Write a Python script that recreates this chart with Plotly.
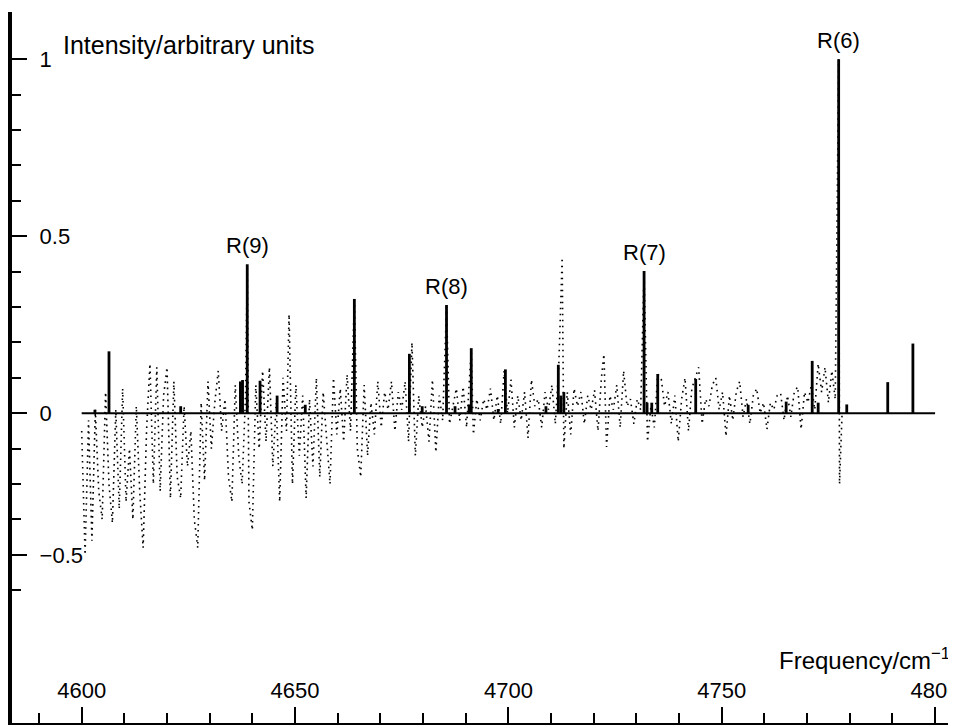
import plotly.graph_objects as go

# ---------------- data ----------------
freq_ticks = [4600, 4650, 4700, 4750, 4800]
freq_tick_text = ["4600", "4650", "4700", "4750", "4800"]
y_tick_vals = [1, 0.5, 0, -0.4]
y_tick_text = ["1", "0.5", "0", "\u22120.5"]
y_minor_vals = [0.9, 0.8, 0.7, 0.6, 0.4, 0.3, 0.2, 0.1, -0.1, -0.2, -0.3, -0.5]

# calculated stick spectrum
stick_freq = [4603.1, 4606.4, 4623.2, 4637.2, 4637.7, 4638.8, 4641.8, 4645.8,
              4652.4, 4663.9, 4676.8, 4679.8, 4685.5, 4687.5, 4690.8, 4691.3,
              4697.6, 4699.3, 4708.8, 4711.7, 4712.3, 4713.0, 4731.8, 4732.5,
              4733.6, 4735.0, 4743.9, 4756.2, 4765.1, 4771.2, 4772.6, 4777.4,
              4779.3, 4788.9, 4794.8]
stick_int = [0.01, 0.175, 0.02, 0.09, 0.094, 0.421, 0.092, 0.05,
             0.024, 0.323, 0.168, 0.02, 0.306, 0.02, 0.025, 0.184,
             0.012, 0.124, 0.02, 0.137, 0.05, 0.06, 0.402, 0.03,
             0.03, 0.111, 0.097, 0.024, 0.033, 0.148, 0.03, 1.0,
             0.025, 0.088, 0.197]

# labelled lines
r_labels = ["R(9)", "R(8)", "R(7)", "R(6)"]
r_freq = [4638.8, 4685.5, 4731.8, 4777.4]
r_int = [0.421, 0.306, 0.402, 1.0]

# observed (dotted) spectrum
obs_freq = [
    4600.0, 4600.8, 4601.6, 4602.4, 4603.2, 4604.0, 4604.8, 4605.6, 4606.4, 4607.2,
    4608.0, 4608.8, 4609.6, 4610.4, 4611.2, 4612.0, 4612.8, 4613.6, 4614.4, 4615.2,
    4616.0, 4616.8, 4617.6, 4618.4, 4619.2, 4620.0, 4620.8, 4621.6, 4622.4, 4623.2,
    4624.0, 4624.8, 4625.6, 4626.4, 4627.2, 4628.0, 4628.8, 4629.6, 4630.4, 4631.2,
    4632.0, 4632.8, 4633.6, 4634.4, 4635.2, 4636.0, 4636.8, 4637.6, 4638.4, 4638.8,
    4639.2, 4640.0, 4640.8, 4641.6, 4642.4, 4643.2, 4644.0, 4644.8, 4645.6, 4646.4,
    4647.2, 4648.0, 4648.6, 4649.4, 4650.2, 4651.0, 4651.8, 4652.6, 4653.4, 4654.2,
    4655.0, 4655.8, 4656.6, 4657.4, 4658.2, 4659.0, 4659.8, 4660.6, 4661.4, 4662.2,
    4663.0, 4663.9, 4664.6, 4665.4, 4666.2, 4667.0, 4667.8, 4668.6, 4669.4, 4670.2,
    4671.0, 4671.8, 4672.6, 4673.4, 4674.2, 4675.0, 4675.8, 4676.6, 4677.4, 4678.2,
    4679.0, 4679.8, 4680.6, 4681.4, 4682.2, 4683.0, 4683.8, 4684.6, 4685.5, 4686.2,
    4687.0, 4687.8, 4688.6, 4689.4, 4690.2, 4691.3, 4691.8, 4692.6, 4693.4, 4694.2,
    4695.0, 4695.8, 4696.6, 4697.4, 4698.2, 4699.0, 4699.8, 4700.6, 4701.4, 4702.2,
    4703.0, 4703.8, 4704.6, 4705.4, 4706.2, 4707.0, 4707.8, 4708.6, 4709.4, 4710.2,
    4711.0, 4711.8, 4712.6, 4713.0, 4713.8, 4714.6, 4715.4, 4716.2, 4717.0, 4717.8,
    4718.6, 4719.4, 4720.2, 4721.0, 4721.8, 4722.4, 4723.0, 4723.8, 4724.6, 4725.4,
    4726.2, 4727.0, 4727.8, 4728.6, 4729.4, 4730.2, 4731.0, 4731.8, 4732.6, 4733.4,
    4734.2, 4735.0, 4735.8, 4736.6, 4737.4, 4738.2, 4739.0, 4739.8, 4740.6, 4741.4,
    4742.2, 4743.0, 4743.8, 4744.6, 4745.4, 4746.2, 4747.0, 4747.8, 4748.6, 4749.4,
    4750.2, 4751.0, 4751.8, 4752.6, 4753.4, 4754.2, 4755.0, 4755.8, 4756.6, 4757.4,
    4758.2, 4759.0, 4759.8, 4760.6, 4761.4, 4762.2, 4763.0, 4763.8, 4764.6, 4765.4,
    4766.2, 4767.0, 4767.8, 4768.6, 4769.4, 4770.2, 4771.0, 4771.8, 4772.6, 4773.4,
    4774.2, 4775.0, 4775.8, 4776.6, 4777.4, 4777.6, 4778.2]
obs_int = [
    -0.05, -0.40, -0.02, -0.36, 0.01, -0.22, -0.30, 0.06, -0.20, -0.31,
    0.01, -0.27, 0.07, -0.25, -0.10, -0.30, 0.02, -0.22, -0.38, -0.05,
    0.14, -0.20, 0.13, -0.22, 0.05, 0.13, -0.24, 0.09, -0.18, -0.24,
    0.02, -0.15, -0.05, -0.30, -0.38, 0.03, -0.19, 0.09, -0.10, 0.03,
    0.12, -0.05, 0.04, -0.18, -0.25, 0.08, -0.12, -0.20, 0.05, 0.42,
    -0.25, -0.33, 0.08, -0.10, 0.12, -0.08, 0.13, -0.15, 0.03, -0.25,
    0.10, -0.05, 0.28, -0.20, 0.08, -0.12, 0.05, -0.24, 0.04, -0.15,
    0.10, -0.18, 0.06, -0.08, -0.20, 0.10, -0.06, 0.07, -0.08, 0.11,
    -0.05, 0.32, -0.10, -0.18, 0.08, -0.12, 0.03, -0.06, 0.09, -0.04,
    0.06, 0.01, 0.09, -0.05, 0.06, 0.01, 0.09, -0.08, 0.20, -0.12,
    0.05, -0.04, 0.02, -0.08, 0.095, -0.11, 0.05, -0.02, 0.30, -0.03,
    0.02, 0.07, -0.02, 0.075, -0.04, 0.18, -0.06, 0.04, -0.02, 0.04,
    0.01, 0.07, -0.02, 0.05, -0.03, 0.12, 0.0, 0.095, -0.04, 0.05,
    -0.02, 0.06, -0.07, 0.095, 0.02, 0.04, -0.04, 0.06, 0.01, 0.08,
    -0.03, 0.13, 0.44, -0.10, 0.06, -0.06, 0.07, 0.02, 0.06, -0.03,
    0.05, 0.01, 0.065, -0.05, 0.10, 0.167, -0.095, 0.05, 0.01, 0.08,
    -0.04, 0.12, 0.02, 0.04, -0.03, 0.04, 0.01, 0.40, -0.08, 0.02,
    -0.04, 0.11, 0.10, 0.02, 0.06, -0.03, 0.05, -0.08, 0.04, 0.10,
    -0.05, 0.07, 0.10, 0.13, -0.03, 0.04, 0.02, 0.08, 0.10, 0.01,
    0.06, -0.065, 0.05, -0.02, 0.06, 0.09, -0.01, 0.04, -0.03, 0.05,
    0.07, 0.0, 0.03, -0.045, 0.03, 0.01, 0.05, 0.057, -0.02, 0.05,
    -0.01, 0.06, 0.075, -0.045, 0.06, 0.03, 0.08, 0.01, 0.14, 0.06,
    0.13, 0.03, 0.12, 0.04, 1.0, -0.20, 0.0]

# ---------------- figure ----------------
FONT = "Liberation Sans, Arial, Helvetica, sans-serif"

stick_x, stick_y = [], []
for f, h in zip(stick_freq, stick_int):
    stick_x += [f, f, None]
    stick_y += [0, h, None]

fig = go.Figure()
fig.add_trace(go.Scatter(
    x=obs_freq, y=obs_int, mode="lines",
    line=dict(color="black", width=1.6, dash="1.6px,4.4px"),
    hoverinfo="skip", showlegend=False, cliponaxis=False))
fig.add_trace(go.Scatter(
    x=stick_x, y=stick_y, mode="lines",
    line=dict(color="black", width=2.8),
    hoverinfo="skip", showlegend=False))

fig.add_shape(type="line", xref="x", yref="y",
              x0=freq_ticks[0], x1=freq_ticks[-1], y0=0, y1=0,
              line=dict(color="black", width=2))

for lab, f, h in zip(r_labels, r_freq, r_int):
    fig.add_annotation(x=f, y=h, text=lab, showarrow=False,
                       xanchor="center", yanchor="bottom", yshift=4,
                       font=dict(family=FONT, size=22, color="black"))

fig.add_annotation(xref="paper", yref="paper", x=0.052, y=0.954,
                   text="Intensity/arbitrary units", showarrow=False,
                   xanchor="left", yanchor="middle",
                   font=dict(family=FONT, size=25, color="black"))
fig.add_annotation(xref="paper", yref="paper", x=1.0, y=0.09,
                   text="Frequency/cm<sup>\u22121</sup>", showarrow=False,
                   xanchor="right", yanchor="middle", xshift=-4,
                   font=dict(family=FONT, size=24, color="black"))

# the page body has an 8px margin: size the figure to fill the rest of the window
fig.update_layout(
    width=948, height=717,
    margin=dict(l=4, r=0, t=4, b=2, pad=0, autoexpand=False),
    paper_bgcolor="white", plot_bgcolor="white",
    font=dict(family=FONT, size=22, color="black"),
    showlegend=False,
    xaxis=dict(
        range=[4583.67, 4804.9], automargin=False,
        showgrid=False, zeroline=False,
        showline=True, linecolor="black", linewidth=2,
        ticks="inside", ticklen=16, tickwidth=1.5, tickcolor="black",
        tickmode="array", tickvals=freq_ticks, ticktext=freq_tick_text,
        ticklabelposition="inside", ticklabeloverflow="allow",
        ticklabelstandoff=6,
        tickfont=dict(family=FONT, size=22, color="black"),
        minor=dict(dtick=10, ticks="inside", ticklen=10, tickwidth=1.5,
                   tickcolor="black", showgrid=False),
    ),
    yaxis=dict(
        range=[-0.8749, 1.1336], automargin=False,
        showgrid=False, zeroline=False,
        showline=True, linecolor="black", linewidth=4,
        ticks="inside", ticklen=15, tickwidth=1.5, tickcolor="black",
        tickmode="array", tickvals=y_tick_vals, ticktext=y_tick_text,
        ticklabelposition="inside", ticklabeloverflow="allow",
        ticklabelstandoff=14,
        tickfont=dict(family=FONT, size=22, color="black"),
        minor=dict(tickmode="array", tickvals=y_minor_vals, ticks="inside",
                   ticklen=9, tickwidth=1.5, tickcolor="black", showgrid=False),
    ),
)

fig.write_html("out.html")
